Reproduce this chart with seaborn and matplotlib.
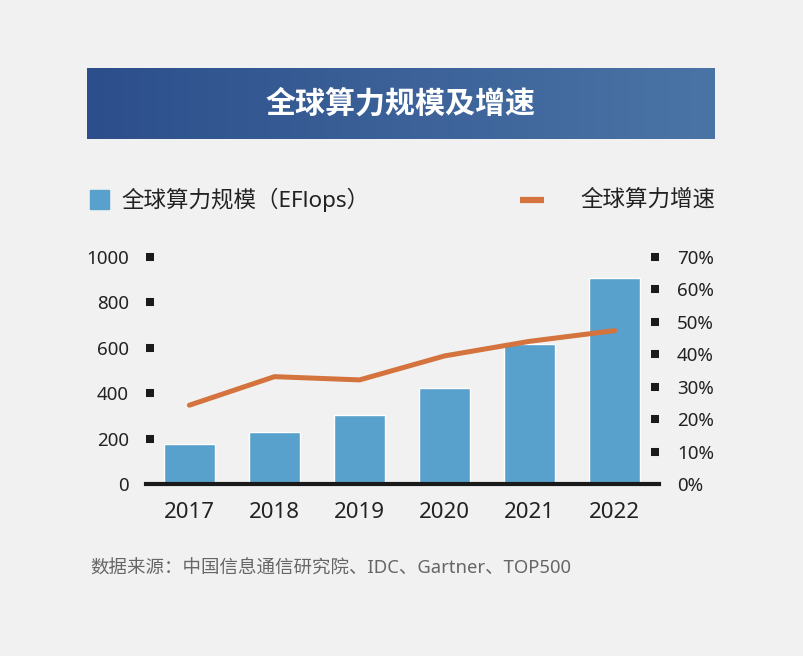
import numpy as np
import matplotlib
matplotlib.use("Agg")
import matplotlib.pyplot as plt
from matplotlib.patches import Rectangle
from matplotlib.lines import Line2D
from matplotlib.colors import LinearSegmentedColormap
import seaborn as sns

# data
years = ["2017", "2018", "2019", "2020", "2021", "2022"]
compute_scale = [175, 230, 305, 425, 615, 906]        # EFlops
growth_rate = [24.3, 33.1, 32.1, 39.5, 44.0, 47.3]   # %
left_ticks = [0, 200, 400, 600, 800, 1000]
right_ticks = [0, 10, 20, 30, 40, 50, 60, 70]

title = "全球算力规模及增速"
bar_label = "全球算力规模（EFlops）"
line_label = "全球算力增速"
source = "数据来源：中国信息通信研究院、IDC、Gartner、TOP500"

bg = "#f1f1f1"
bar_color = "#58a1cc"
line_color = "#d4733e"
ink = "#222222"

sns.set_theme(style="white")
plt.rcParams["font.family"] = ["Noto Sans", "Noto Sans CJK SC", "DejaVu Sans"]

W, H = 804, 656
fig = plt.figure(figsize=(W / 100, H / 100), dpi=100, facecolor=bg)


def fx(px):
    return px / W


def fy(py):
    return 1 - py / H


# title banner with a horizontal gradient
banner = fig.add_axes([fx(87), fy(139), fx(715) - fx(87), fy(68) - fy(139)])
cmap = LinearSegmentedColormap.from_list("banner", ["#2c4f8b", "#4b74a6"])
banner.imshow(np.linspace(0, 1, 256)[None, :], aspect="auto", cmap=cmap,
              extent=[0, 1, 0, 1])
banner.set_axis_off()
banner.text(0.5, 0.5, title, color="white", fontsize=21.6, fontweight="bold",
            ha="center", va="center", transform=banner.transAxes,
            family=["Noto Sans CJK SC"])

# main chart
ax = fig.add_axes([fx(146), fy(484), fx(659) - fx(146), fy(257) - fy(484)])
ax.set_facecolor("none")
sns.barplot(x=years, y=compute_scale, color=bar_color, saturation=1,
            width=0.6, ax=ax, zorder=1)
ax.set_ylim(0, 1000)
ax.set_yticks(left_ticks)
ax.set_yticklabels([str(v) for v in left_ticks])
ax.set_xlabel("")
ax.set_ylabel("")
for side in ["top", "left", "right"]:
    ax.spines[side].set_visible(False)
ax.spines["bottom"].set_linewidth(3)
ax.spines["bottom"].set_color("#1a1a1a")
ax.spines["bottom"].set_zorder(5)
ax.tick_params(axis="y", direction="in", length=5.6, width=5.8,
               color="#1a1a1a", pad=12.5, labelsize=13.5, labelcolor=ink)
ax.tick_params(axis="x", length=0, pad=13, labelsize=16, labelcolor=ink)

ax2 = ax.twinx()
sns.lineplot(x=np.arange(len(years)), y=growth_rate, ax=ax2,
             color=line_color, linewidth=3.6)
ax2.set_ylim(0, 70)
ax2.set_yticks(right_ticks)
ax2.set_yticklabels([f"{v}%" for v in right_ticks])
ax2.set_ylabel("")
for side in ["top", "left", "right", "bottom"]:
    ax2.spines[side].set_visible(False)
ax2.tick_params(axis="y", direction="in", length=6, width=5.8,
                color="#1a1a1a", pad=13, labelsize=13.5, labelcolor=ink)
ax.set_xlim(-0.51, 5.52)

# legend drawn at the top
fig.patches.append(Rectangle((fx(90), fy(209)), fx(109) - fx(90), fy(190) - fy(209),
                             transform=fig.transFigure, color=bar_color))
fig.text(fx(121), fy(200), bar_label, fontsize=16.2, color=ink, va="center")
fig.lines.append(Line2D([fx(520), fx(544)], [fy(200), fy(200)],
                        transform=fig.transFigure, color=line_color,
                        linewidth=4.5, solid_capstyle="butt"))
fig.text(fx(715), fy(200), line_label, fontsize=16.2, color=ink,
         va="center", ha="right")

fig.text(fx(90), fy(569), source, fontsize=13.3, color="#666666", va="center")

# no square marker at the zero ticks (the baseline sits there)
fig.canvas.draw()
ax.yaxis.get_major_ticks()[0].tick1line.set_visible(False)
ax2.yaxis.get_major_ticks()[0].tick2line.set_visible(False)

fig.savefig("out.png", dpi=100, facecolor=bg)
